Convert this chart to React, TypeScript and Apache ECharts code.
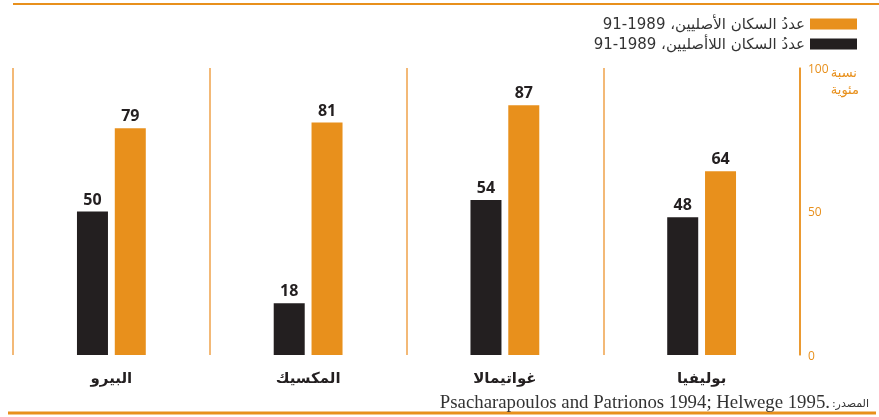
import React, { useEffect, useRef } from "react";
import * as echarts from "echarts";

const categories = ["البيرو", "المكسيك", "غواتيمالا", "بوليفيا"];
const nonIndigenous = [50, 18, 54, 48];
const indigenous = [79, 81, 87, 64];
const seriesNames = ["عددُ السكان الأصليين، 1989-91", "عددُ السكان اللاأصليين، 1989-91"];
const yTicks = { min: 0, max: 100, interval: 50 };
const axisName = "نسبة\nمئوية";
const sourceLatin = "Psacharapoulos and Patrionos 1994; Helwege 1995.";
const sourceArabic = "\u202Bالمصدر:\u202C";

const ORANGE = "#E8901C";
const BLACK = "#231F20";

export default function App() {
  const ref = useRef<HTMLDivElement>(null);
  useEffect(() => {
    const chart = echarts.init(ref.current!, null, { renderer: "svg" });
    chart.setOption({
      animation: false,
      grid: { left: 13, right: 79, top: 68, bottom: 62 },
      legend: {
        data: [seriesNames[0], seriesNames[1]],
        orient: "vertical",
        right: 17,
        top: 11,
        align: "right",
        itemWidth: 47,
        itemHeight: 11,
        itemGap: 4,
        icon: "rect",
        textStyle: { fontSize: 15, lineHeight: 16, color: "#333", fontFamily: "DejaVu Sans" },
      },
      xAxis: {
        type: "category",
        data: categories,
        axisLine: { show: false },
        axisTick: { show: false },
        splitLine: { show: true, interval: 0, lineStyle: { color: "#EFA24A", width: 1.5 } },
        axisLabel: {
          fontSize: 15,
          fontWeight: "bold",
          color: BLACK,
          margin: 15,
          fontFamily: "DejaVu Sans",
        },
      },
      yAxis: {
        type: "value",
        position: "right",
        min: yTicks.min,
        max: yTicks.max,
        interval: yTicks.interval,
        axisLine: { show: true, lineStyle: { color: ORANGE, width: 1.5 } },
        axisTick: { show: false },
        splitLine: { show: false },
        axisLabel: { color: ORANGE, fontSize: 12, margin: 8, fontFamily: "Open Sans", padding: [3, 0, 0, 0] },
      },
      graphic: [
        { type: "line", shape: { x1: 13, y1: 4, x2: 879, y2: 4 }, style: { stroke: ORANGE, lineWidth: 2 } },
        { type: "line", shape: { x1: 8, y1: 413, x2: 876, y2: 413 }, style: { stroke: ORANGE, lineWidth: 3 } },
        {
          type: "text",
          right: 20,
          top: 64,
          style: { text: axisName, fill: ORANGE, fontSize: 13, lineHeight: 17, align: "right", fontFamily: "DejaVu Sans" },
        },
        {
          type: "text",
          x: 830,
          y: 401,
          style: { text: sourceLatin, fill: "#333", fontSize: 18.8, align: "right", verticalAlign: "middle", fontFamily: "Liberation Serif" },
        },
        {
          type: "text",
          x: 869,
          y: 403,
          style: { text: sourceArabic, fill: "#333", fontSize: 11, align: "right", verticalAlign: "middle", fontFamily: "DejaVu Sans" },
        },
      ],
      series: [
        {
          name: seriesNames[1],
          type: "bar",
          data: nonIndigenous,
          barWidth: 31,
          barGap: "22%",
          itemStyle: { color: BLACK },
          label: { show: true, position: "top", distance: 5, fontSize: 16, fontWeight: "bold", color: BLACK, fontFamily: "Open Sans" },
        },
        {
          name: seriesNames[0],
          type: "bar",
          data: indigenous,
          barWidth: 31,
          itemStyle: { color: ORANGE },
          label: { show: true, position: "top", distance: 5, fontSize: 16, fontWeight: "bold", color: BLACK, fontFamily: "Open Sans" },
        },
      ],
    });
    return () => chart.dispose();
  }, []);
  return <div ref={ref} style={{ position: "fixed", left: 0, top: 0, width: 879, height: 417 }} />;
}
